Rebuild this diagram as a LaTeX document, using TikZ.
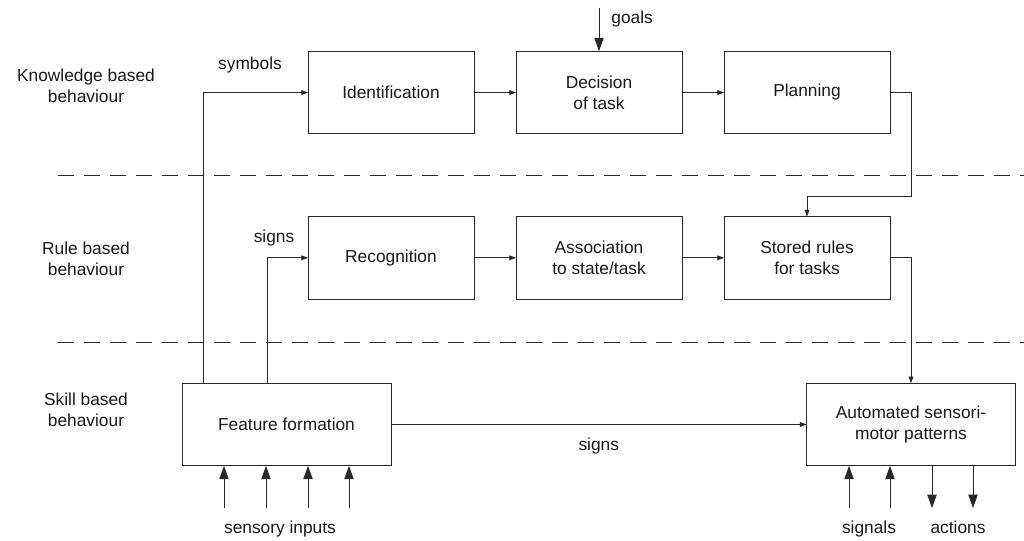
\documentclass[tikz,border=0pt]{standalone}
\usepackage{fontspec}
\setmainfont{Liberation Sans}
\usetikzlibrary{positioning,arrows.meta}
\definecolor{myline}{RGB}{40,40,40}
\definecolor{mytext}{RGB}{25,25,25}

\begin{document}
\begin{tikzpicture}[x=0.75pt,y=-0.75pt,node distance={62pt and 31.5pt},outer sep=0pt,
		font={\fontsize{13}{15.5}\selectfont\color{mytext}},
		stage/.style={
		  draw=myline,
		  line width=0.6pt,
		  minimum width=124.5pt,
		  minimum height=62pt,
		  align=center},
		widestage/.style={stage,minimum width=156.75pt},
		link/.style={draw=myline,line width=0.6pt,-{Triangle[length=5pt,width=3.6pt]}},
		feed/.style={link,-{Triangle[length=10pt,width=7pt]}},
		level/.style={align=center},
		sep/.style={draw=myline,line width=0.6pt,dash pattern=on 12pt off 7.5pt},
		]
		\useasboundingbox (0,0) rectangle (1024,540);
		\node[stage] (Ide) at (391,92.5) {Identification};
		\node[stage,right=of Ide] (Dec) {Decision\\of task};
		\node[stage,right=of Dec] (Pla) {Planning};
		\node[stage,below=of Ide] (Rec) {Recognition};
		\node[stage,right=of Rec] (Ass) {Association\\to state/task};
		\node[stage,right=of Ass] (Sto) {Stored rules\\for tasks};
		\node[widestage] (Fea) at (286.5,424.5) {Feature formation};
		\node[widestage] (Aut) at (911,424.5) {Automated sensori-\\motor patterns};
		\node[level] (KnB) at (86,85.5) {Knowledge based\\behaviour};
		\node[level] (RuB) at (86,258.5) {Rule based\\behaviour};
		\node[level] (SkB) at (86,410) {Skill based\\behaviour};
		\draw[sep] (58,175) -- (1024,175);
		\draw[sep] (58,342) -- (1024,342);
		\coordinate (goal) at (599,8);
		\draw[feed] (goal) -- (Dec.north);
		\node[right=6pt of goal,yshift=-8pt] (Gls) {goals};
		\draw[link] (Ide) -- (Dec);
		\draw[link] (Dec) -- (Pla);
		\draw[link] (Rec) -- (Ass);
		\draw[link] (Ass) -- (Sto);
		\draw[link] (Pla.east) -| (911,196) -| (Sto.north);
		\draw[link] (Sto.east) -| (Aut.north);
		\draw[link] (Fea.north -| 203,0) |- (Ide.west);
		\draw[link] (Fea.north -| 267,0) |- (Rec.west);
		\node (Sym) at (250,65) {symbols};
		\node (SgA) at (274,238) {signs};
		\draw[link] (Fea) -- node[midway,yshift=-16pt] (SgB) {signs} (Aut);
		\foreach \x in {224,266,308,349}
		  \draw[feed] (\x,508) -- (Fea.south -| \x,0);
		\foreach \x in {849,890}
		  \draw[feed] (\x,508) -- (Aut.south -| \x,0);
		\foreach \x in {932,973}
		  \draw[feed] (Aut.south -| \x,0) -- (\x,508);
		\node[anchor=base] (Sen) at (280,533) {sensory inputs};
		\node[anchor=base] (Sig) at (869,533) {signals};
		\node[anchor=base] (Act) at (958,533) {actions};
		\end{tikzpicture}
\end{document}
